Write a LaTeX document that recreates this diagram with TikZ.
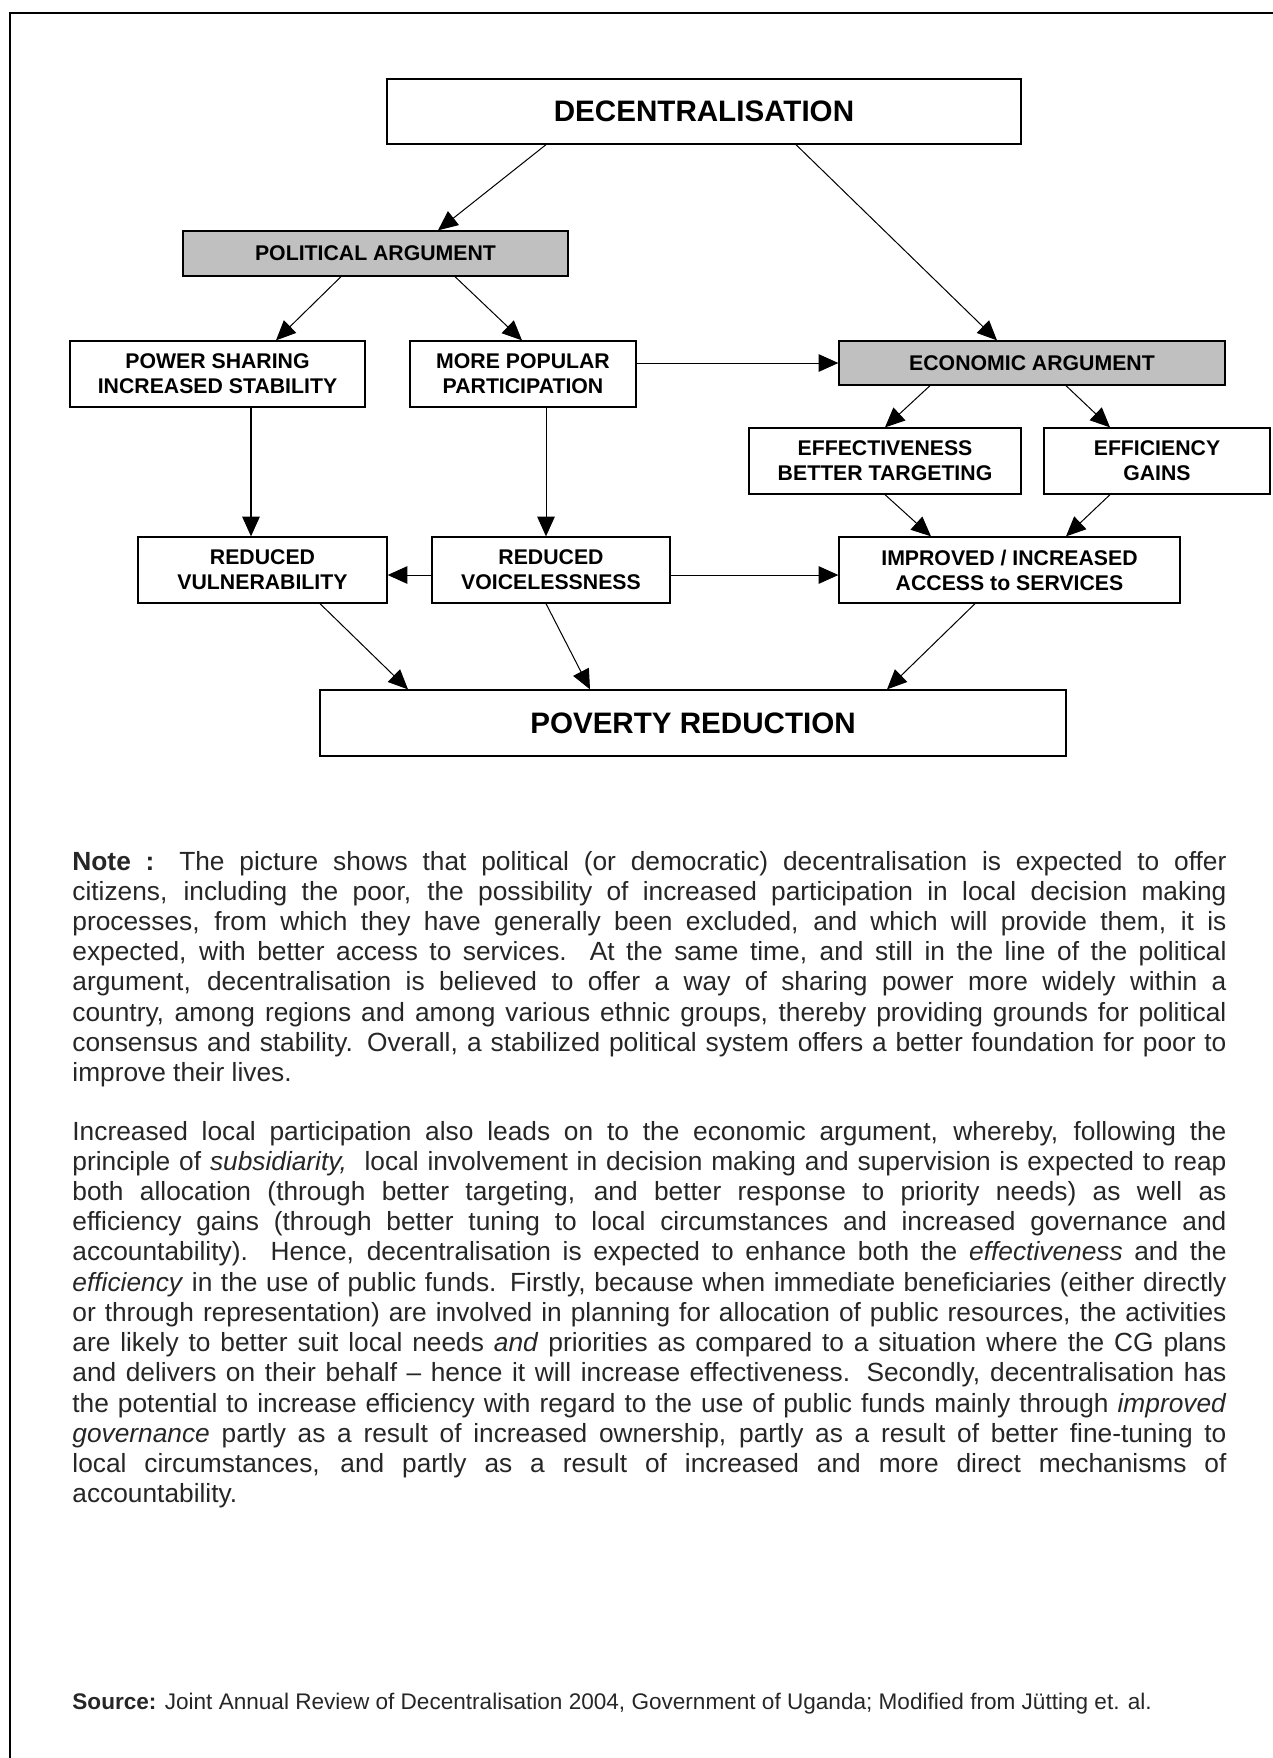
\documentclass[tikz,border=0pt]{standalone}
\usepackage{fontspec}
\setmainfont{Liberation Sans}
\usetikzlibrary{arrows.meta,calc}
\definecolor{argfill}{HTML}{C0C0C0}
\definecolor{bodytext}{HTML}{262626}
\tikzset{
  sz/.style 2 args={minimum width=#1*0.4563pt, minimum height=#2*0.4563pt},
  box/.style={draw, line width=0.6pt, inner sep=0pt, align=center,
    font=\bfseries\fontsize{9.7pt}{11.4pt}\selectfont},
  argbox/.style={box, fill=argfill},
  bigbox/.style={box, font=\bfseries\fontsize{13.5pt}{15pt}\selectfont},
  conn/.style={line width=0.46pt, -{Triangle[length=9pt, width=8pt]}},
  bodytxt/.style={inner sep=0pt, anchor=base west, text width=526.6pt, align=justify,
    text=bodytext, font=\fontsize{12pt}{13.8pt}\selectfont}
}
\begin{document}
\begin{tikzpicture}[x=0.4563pt, y=-0.4563pt]
\useasboundingbox (0,0) rectangle (1273,1758);
% frame
\coordinate (fa) at (10,1770);
\coordinate (fb) at (10,13);
\coordinate (fc) at (1290,13);
\draw[line width=0.9pt] (fa) -- (fb) -- (fc);

% nodes
\node[bigbox, sz={634}{65}] (dec) at (704,111.5) {DECENTRALISATION};
\node[argbox, sz={385}{45}] (pol) at (375.5,253.5) {POLITICAL ARGUMENT};
\node[box, sz={295}{66}] (pow) at (217.5,374) {POWER SHARING\\INCREASED STABILITY};
\node[box, sz={226}{66}] (pop) at (523,374) {MORE POPULAR\\PARTICIPATION};
\node[argbox, sz={386}{44}] (eco) at (1032,363) {ECONOMIC ARGUMENT};
\node[box, sz={272}{66}] (eff) at (885,461) {EFFECTIVENESS\\BETTER TARGETING};
\node[box, sz={226}{66}] (effi) at (1157,461) {EFFICIENCY\\GAINS};
\node[box, sz={249}{66}] (vul) at (262.5,570) {REDUCED\\VULNERABILITY};
\node[box, sz={238}{66}] (voi) at (551,570) {REDUCED\\VOICELESSNESS};
\node[box, sz={341}{66}] (imp) at (1009.5,570) {IMPROVED / INCREASED\\ACCESS to SERVICES};
\node[bigbox, sz={746}{66}] (pov) at (693,723) {POVERTY REDUCTION};

% connectors
\draw[conn] ($(dec.south)+(-158,0)$) -- ($(pol.north)+(62.5,0)$);
\draw[conn] ($(dec.south)+(92,0)$) -- ($(eco.north)+(-35,0)$);
\draw[conn] ($(pol.south)+(-34.5,0)$) -- ($(pow.north)+(58.5,0)$);
\draw[conn] ($(pol.south)+(79.5,0)$) -- ($(pop.north)+(-1,0)$);
\draw[conn] (pop.east |- eco.west) -- (eco.west);
\draw[conn] ($(pow.south)+(33.5,0)$) -- ($(vul.north)+(-11.5,0)$);
\draw[conn] ($(pop.south)+(23,0)$) -- ($(voi.north)+(-5,0)$);
\draw[conn] ($(eco.south)+(-102,0)$) -- (eff.north);
\draw[conn] ($(eco.south)+(34,0)$) -- ($(effi.north)+(-47,0)$);
\draw[conn] (eff.south) -- ($(imp.north)+(-78.5,0)$);
\draw[conn] ($(effi.south)+(-47,0)$) -- ($(imp.north)+(56.5,0)$);
\draw[conn] ($(voi.west)+(0,5)$) -- ($(vul.east)+(0,5)$);
\draw[conn] ($(voi.east)+(0,5)$) -- ($(imp.west)+(0,5)$);
\draw[conn] ($(vul.south)+(57.5,0)$) -- ($(pov.north)+(-285,0)$);
\draw[conn] ($(voi.south)+(-5,0)$) -- ($(pov.north)+(-103,0)$);
\draw[conn] ($(imp.south)+(-34.5,0)$) -- ($(pov.north)+(194,0)$);

% note text
\node[bodytxt] (p1) at (72,870) {\hyphenpenalty=10000\tolerance=10000
\textbf{Note :} The picture shows that political (or democratic) decentralisation is expected to offer\linebreak
citizens, including the poor, the possibility of increased participation in local decision making\linebreak
processes, from which they have generally been excluded, and which will provide them, it is\linebreak
expected, with better access to services.\ \ At the same time, and still in the line of the political\linebreak
argument, decentralisation is believed to offer a way of sharing power more widely within a\linebreak
country, among regions and among various ethnic groups, thereby providing grounds for political\linebreak
consensus and stability. Overall, a stabilized political system offers a better foundation for poor to\linebreak
improve their lives.};

\node[bodytxt] (p2) at (72,1140) {\hyphenpenalty=10000\tolerance=10000
Increased local participation also leads on to the economic argument, whereby, following the\linebreak
principle of \emph{subsidiarity,}\ \ local involvement in decision making and supervision is expected to reap\linebreak
both allocation (through better targeting, and better response to priority needs) as well as\linebreak
efficiency gains (through better tuning to local circumstances and increased governance and\linebreak
accountability). Hence, decentralisation is expected to enhance both the \emph{effectiveness} and the\linebreak
\emph{efficiency} in the use of public funds. Firstly, because when immediate beneficiaries (either directly\linebreak
or through representation) are involved in planning for allocation of public resources, the activities\linebreak
are likely to better suit local needs \emph{and} priorities as compared to a situation where the CG plans\linebreak
and delivers on their behalf – hence it will increase effectiveness. Secondly, decentralisation has\linebreak
the potential to increase efficiency with regard to the use of public funds mainly through \emph{improved}\linebreak
\emph{governance} partly as a result of increased ownership, partly as a result of better fine-tuning to\linebreak
local circumstances, and partly as a result of increased and more direct mechanisms of\linebreak
accountability.};

\node[inner sep=0pt, anchor=base west, text=bodytext, font=\fontsize{10.3pt}{11.8pt}\selectfont] (src) at (72,1709)
  {\textbf{Source:} Joint Annual Review of Decentralisation 2004, Government of Uganda; Modified from Jütting et. al.};
\end{tikzpicture}
\end{document}
